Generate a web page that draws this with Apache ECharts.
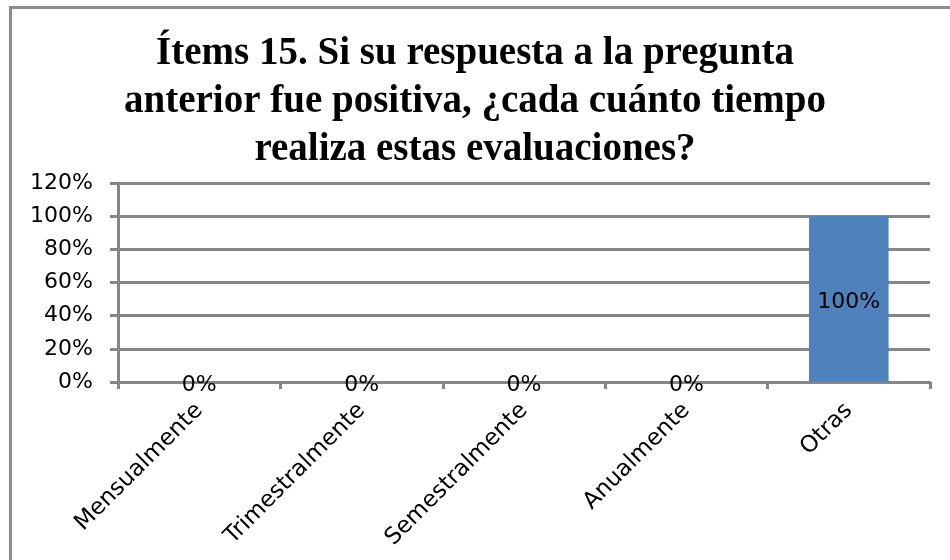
<!DOCTYPE html>
<html>
<head>
<meta charset="utf-8">
<title>Ítems 15</title>
<script src="https://cdn.jsdelivr.net/npm/echarts@6/dist/echarts.min.js"></script>
<style>
  html, body { margin: 0; padding: 0; background: #fff; }
  #wrap { position: relative; width: 950px; height: 560px; overflow: hidden; }
  #frame {
    position: absolute; left: 9px; top: 6px; width: 960px; height: 570px;
    border-left: 3px solid #8c8c8c; border-top: 3px solid #8c8c8c;
  }
  #chart { position: absolute; left: 0; top: 0; width: 950px; height: 560px; }
</style>
</head>
<body>
<div id="wrap">
  <div id="frame"></div>
  <div id="chart"></div>
</div>
<script>
// datos del gráfico
const titleText = "Ítems 15. Si su respuesta a la pregunta\nanterior fue positiva, ¿cada cuánto tiempo\nrealiza estas evaluaciones?";
const categories = ["Mensualmente", "Trimestralmente", "Semestralmente", "Anualmente", "Otras"];
const values = [0, 0, 0, 0, 100];
const axisMax = 120;
const axisStep = 20;

const chart = echarts.init(document.getElementById("chart"), null, { renderer: "canvas" });

const gray = "#868686";
const labelFont = "DejaVu Sans";

const option = {
  animation: false,
  title: {
    text: titleText,
    left: "center",
    top: 25,
    textStyle: {
      fontFamily: "Liberation Serif",
      fontWeight: "bold",
      fontSize: 39,
      lineHeight: 48,
      color: "#000",
    },
  },
  grid: {
    left: 118,
    right: 20,
    top: 183,
    bottom: 178,
  },
  xAxis: {
    type: "category",
    data: categories,
    axisLine: { lineStyle: { color: gray, width: 3 } },
    axisTick: { show: true, length: 7, lineStyle: { color: gray, width: 3 } },
    axisLabel: {
      rotate: 45,
      margin: 25,
      interval: 0,
      color: "#000",
      fontFamily: labelFont,
      fontSize: 23,
    },
  },
  yAxis: {
    type: "value",
    min: 0,
    max: axisMax,
    interval: axisStep,
    axisLine: { show: true, lineStyle: { color: gray, width: 3 } },
    axisTick: { show: true, length: 8, lineStyle: { color: gray, width: 3 } },
    splitLine: { show: true, lineStyle: { color: gray, width: 3 } },
    axisLabel: {
      formatter: (v) => v + "%",
      margin: 25,
      color: "#000",
      fontFamily: labelFont,
      fontSize: 22,
    },
  },
  series: [
    {
      type: "bar",
      data: values,
      barWidth: "49%",
      itemStyle: { color: "#4F81BD" },
      label: {
        show: true,
        position: "inside",
        formatter: (p) => p.value + "%",
        color: "#000",
        fontFamily: labelFont,
        fontSize: 22,
        offset: [0, 3],
      },
    },
  ],
};

chart.setOption(option);
</script>
</body>
</html>
